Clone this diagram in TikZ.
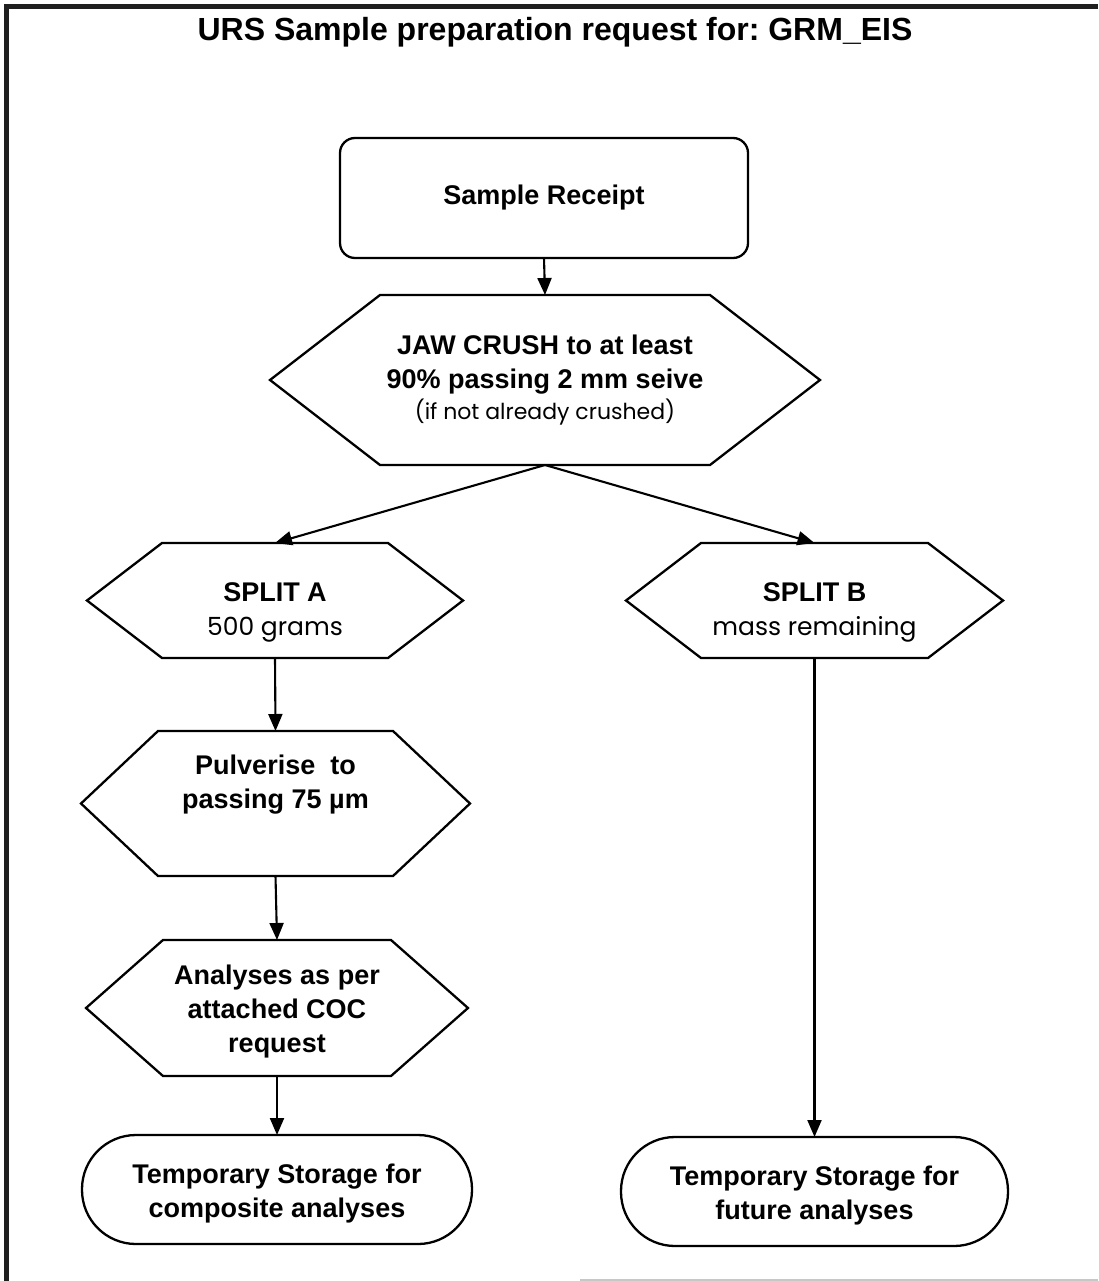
\documentclass[tikz,border=0pt]{standalone}
\usepackage{fontspec}
\setmainfont{Liberation Sans}
\newfontfamily\geo{Poppins}
\usetikzlibrary{arrows.meta,calc}
\frenchspacing
\newcommand\bfnt{\bfseries\fontsize{27}{34}\selectfont}
\newcommand\gfnt{\mdseries\geo\fontsize{25}{31}\selectfont}
\newcommand\hexdraw[2]{\draw[shapeline] (#1.west) -- ([xshift=#2]#1.north west) -- ([xshift=-#2]#1.north east) -- (#1.east) -- ([xshift=-#2]#1.south east) -- ([xshift=#2]#1.south west) -- cycle;}
\begin{document}
\begin{tikzpicture}[x=1pt,y=-1pt,
  shapeline/.style={line width=2.3pt, draw=black, line join=miter},
  area/.style={inner sep=0pt, outer sep=0pt},
  txt/.style={inner sep=0pt, align=center, font=\bfnt},
  arr/.style={line width=2.1pt, -{Triangle[length=17pt,width=14pt]}},
  stadium/.style={area, draw, line width=2.3pt, rounded corners=54}
]
\useasboundingbox (0,0) rectangle (1098,1281);
% frame
\draw[line width=5pt, draw=black!88] (6.5,1281) -- (6.5,6.5) -- (1098,6.5);
\draw[line width=2pt, draw=black!22] (580,1280) -- (1098,1280);
% title
\node[anchor=base, inner sep=0pt, font=\bfseries\fontsize{32}{38}\selectfont] (title) at (555,41) {URS Sample preparation request for: GRM\_EIS};

% Sample receipt
\node[area, draw, line width=2.3pt, rounded corners=15, minimum width=408, minimum height=120, font=\bfnt] (receipt) at (544,198) {Sample Receipt};

% Jaw crush
\node[area, minimum width=550, minimum height=170] (jaw) at (545,380) {};
\hexdraw{jaw}{110}
\node[txt] (jawtext) at (545,380) {JAW CRUSH to at least\\90\% passing 2 mm seive\\[-3pt]{\mdseries\geo\fontsize{22}{27}\selectfont (if not already crushed)}};

% Split A
\node[area, minimum width=376, minimum height=115] (splitA) at (275,600.5) {};
\hexdraw{splitA}{75}
\node[txt] (splitAtext) at (275,612) {SPLIT A\\{\gfnt 500 grams}};

% Split B
\node[area, minimum width=377, minimum height=115] (splitB) at (814.5,600.5) {};
\hexdraw{splitB}{75}
\node[txt] (splitBtext) at (814.5,612) {SPLIT B\\{\gfnt mass remaining}};

% Pulverise
\node[area, minimum width=389, minimum height=145] (pulv) at (275.5,803.5) {};
\hexdraw{pulv}{77}
\node[txt] (pulvtext) at (275.5,785) {Pulverise\ \ to\\passing 75 µm};

% Analyses
\node[area, minimum width=382, minimum height=136] (anal) at (277,1008) {};
\hexdraw{anal}{77}
\node[txt] (analtext) at (277,1012) {Analyses as per\\attached COC\\request};

% Storage
\node[stadium, minimum width=390, minimum height=109] (storeA) at (277,1189.5) {};
\node[txt] (storeAtext) at (277,1194) {Temporary Storage for\\composite analyses};
\node[stadium, minimum width=387, minimum height=109] (storeB) at (814.5,1191.5) {};
\node[txt] (storeBtext) at (814.5,1196) {Temporary Storage for\\future analyses};

% connectors
\draw[arr] (receipt.south) -- (jaw.north);
\draw[arr] (jaw.south) -- (splitA.north);
\draw[arr] (jaw.south) -- (splitB.north);
\draw[arr] (splitA.south) -- (pulv.north);
\draw[arr] (pulv.south) -- (anal.north);
\draw[arr] (anal.south) -- (storeA.north);
\draw[arr] (splitB.south) -- (storeB.north);
\end{tikzpicture}
\end{document}
